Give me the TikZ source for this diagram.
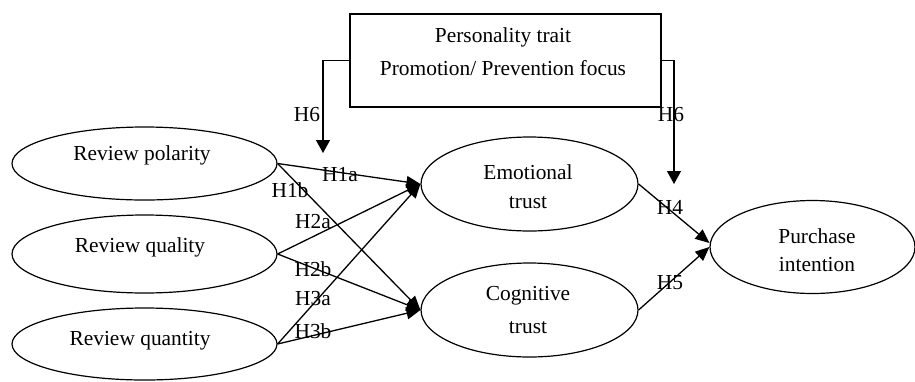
\documentclass[tikz,border=0pt]{standalone}
\usepackage{fontspec}
\setmainfont{Liberation Serif}
\usetikzlibrary{shapes.geometric,arrows.meta}
\begin{document}
\begin{tikzpicture}[x=0.5pt,y=-0.5pt,
  ell/.style={draw,ellipse,line width=0.6pt,inner sep=0pt},
  lbl/.style={font=\fontsize{10.7}{12}\selectfont,inner sep=0pt},
  hlbl/.style={font=\fontsize{10.7}{12}\selectfont,inner sep=0pt},
  arr/.style={line width=0.65pt,-{Triangle[length=7pt,width=6pt]}},
  darr/.style={line width=0.65pt,-{Triangle[length=6.5pt,width=7pt]}},
  boxst/.style={draw,line width=0.6pt,minimum width=155.5pt,minimum height=46.5pt,inner sep=0pt}]
\useasboundingbox (0,0) rectangle (915,381);
% top box
\node[boxst] (box) at (505.5,60.5) {};
\node[lbl] (bt1) at (503,37) {Personality trait};
\node[lbl] (bt2) at (503,68) {Promotion/ Prevention focus};
% left ellipses
\node[ell,minimum width=132.5pt,minimum height=36.5pt] (rp) at (144.5,163.5) {};
\node[lbl] (rpt) at (142,155) {Review polarity};
\node[ell,minimum width=132.5pt,minimum height=39pt] (rq) at (144.5,254) {};
\node[lbl] (rqt) at (140,247) {Review quality};
\node[ell,minimum width=132.5pt,minimum height=36pt] (rn) at (144.5,344) {};
\node[lbl] (rnt) at (140,341) {Review quantity};
% middle ellipses
\node[ell,minimum width=108.5pt,minimum height=47pt] (emo) at (529.5,184) {};
\node[lbl] (emot1) at (528,172) {Emotional};
\node[lbl] (emot2) at (528,203) {trust};
\node[ell,minimum width=108.5pt,minimum height=47pt] (cog) at (529.5,310) {};
\node[lbl] (cogt1) at (528,296) {Cognitive};
\node[lbl] (cogt2) at (528,328) {trust};
% right ellipse
\node[ell,minimum width=102.5pt,minimum height=46.5pt] (pur) at (812.5,247) {};
\node[lbl] (purt1) at (817,236) {Purchase};
\node[lbl] (purt2) at (817,265) {intention};
% moderator arrows
\coordinate (h6l) at (323,153);
\coordinate (h6r) at (674,184);
\draw[darr] (box.west) -| (h6l);
\draw[darr] (box.east) -| (h6r);
% paths
\draw[arr] (rp.east) -- (emo.west);
\draw[arr] (rp.east) -- (cog.west);
\draw[arr] (rq.east) -- (emo.west);
\draw[arr] (rq.east) -- (cog.west);
\draw[arr] (rn.east) -- (emo.west);
\draw[arr] (rn.east) -- (cog.west);
\draw[arr] (emo.east) -- ([yshift=2pt]pur.west);
\draw[arr] (cog.east) -- (pur.west);
% labels
\node[hlbl] (l6a) at (307,115) {H6};
\node[hlbl] (l6b) at (671,115) {H6};
\node[hlbl] (l1a) at (340,175) {H1a};
\node[hlbl] (l1b) at (290,190) {H1b};
\node[hlbl] (l2a) at (313,222) {H2a};
\node[hlbl] (l2b) at (313,269) {H2b};
\node[hlbl] (l3a) at (313,299) {H3a};
\node[hlbl] (l3b) at (313,331) {H3b};
\node[hlbl] (l4) at (670,207) {H4};
\node[hlbl] (l5) at (670,283) {H5};
\end{tikzpicture}
\end{document}
